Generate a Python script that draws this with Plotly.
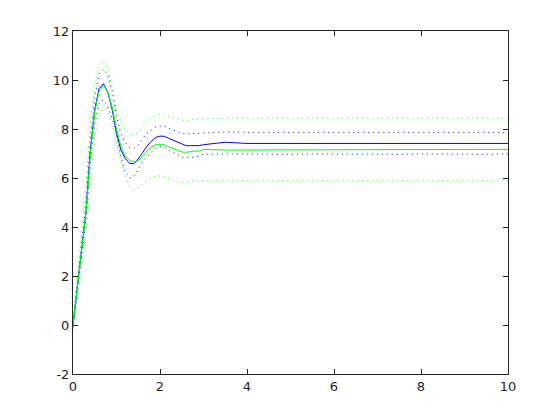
import plotly.graph_objects as go

x = [0, 0.1, 0.2, 0.3, 0.4, 0.5, 0.6, 0.7, 0.8, 0.9,
     1.0, 1.1, 1.2, 1.3, 1.4, 1.5, 1.6, 1.7, 1.8, 1.9,
     2.0, 2.1, 2.2, 2.3, 2.4, 2.5, 2.6, 2.7, 2.8, 2.9,
     3.0, 3.5, 4.0, 4.5, 5.0, 5.5, 6.0, 6.5, 7.0, 7.5, 8.0, 8.5, 9.0, 9.5, 10.0]

blue_mean = [0, 1.6, 3.15, 4.65, 7.15, 8.8, 9.65, 9.85, 9.5, 8.8,
             7.85, 7.15, 6.8, 6.6, 6.58, 6.78, 7.03, 7.3, 7.5, 7.65,
             7.71, 7.7, 7.62, 7.55, 7.46, 7.38, 7.32, 7.32, 7.32, 7.32,
             7.36, 7.46, 7.41, 7.41, 7.39, 7.41, 7.4, 7.41, 7.39, 7.41, 7.39, 7.4, 7.41, 7.4, 7.41]
blue_upper = [0.1, 1.8, 3.4, 5.0, 7.6, 9.3, 10.25, 10.45, 10.18, 9.55,
              8.55, 7.8, 7.45, 7.25, 7.21, 7.35, 7.6, 7.82, 7.97, 8.08,
              8.12, 8.1, 8.03, 7.96, 7.88, 7.82, 7.8, 7.81, 7.82, 7.84,
              7.85, 7.88, 7.86, 7.86, 7.85, 7.86, 7.86, 7.85, 7.86, 7.86, 7.85, 7.86, 7.86, 7.85, 7.86]
blue_lower = [-0.1, 1.4, 2.9, 4.3, 6.6, 8.2, 9.05, 9.2, 8.9, 8.45,
              7.7, 6.9, 6.25, 6.0, 6.05, 6.35, 6.65, 6.85, 7.05, 7.2,
              7.28, 7.25, 7.15, 7.02, 6.92, 6.85, 6.84, 6.84, 6.85, 6.9,
              6.97, 6.98, 6.97, 6.98, 6.97, 6.98, 6.97, 6.98, 6.97, 6.97, 6.98, 6.97, 6.98, 6.97, 6.98]

green_mean = [0, 1.5, 3.1, 4.6, 7.0, 8.7, 9.55, 9.8, 9.5, 8.9,
              8.0, 7.3, 6.9, 6.72, 6.66, 6.7, 6.88, 7.1, 7.25, 7.35,
              7.38, 7.35, 7.28, 7.2, 7.12, 7.06, 7.05, 7.08, 7.1, 7.1,
              7.17, 7.14, 7.14, 7.17, 7.17, 7.17, 7.17, 7.17, 7.17, 7.17, 7.17, 7.17, 7.17, 7.17, 7.17]
green_upper = [0.15, 2.1, 3.9, 5.6, 8.3, 9.9, 10.55, 10.8, 10.45, 9.75,
               8.75, 8.3, 8.0, 7.82, 7.76, 7.85, 8.1, 8.3, 8.45, 8.56,
               8.6, 8.58, 8.52, 8.45, 8.38, 8.34, 8.34, 8.38, 8.41, 8.41,
               8.42, 8.44, 8.44, 8.44, 8.44, 8.44, 8.44, 8.44, 8.44, 8.44, 8.44, 8.44, 8.44, 8.44, 8.44]
green_lower = [-0.15, 1.0, 2.4, 3.8, 5.8, 7.6, 8.6, 8.95, 8.7, 8.2,
               7.45, 6.65, 6.05, 5.65, 5.54, 5.6, 5.78, 5.92, 6.02, 6.07,
               6.08, 6.05, 5.98, 5.9, 5.84, 5.81, 5.81, 5.84, 5.87, 5.89,
               5.89, 5.89, 5.89, 5.89, 5.89, 5.89, 5.89, 5.89, 5.89, 5.89, 5.89, 5.89, 5.89, 5.89, 5.89]

x_ticks = [0, 2, 4, 6, 8, 10]
y_ticks = [-2, 0, 2, 4, 6, 8, 10, 12]

BLUE = "#0000ff"
GREEN = "#00ff00"
DOT = "1px,4px"

fig = go.Figure()
series = [
    (blue_upper, BLUE, DOT),
    (blue_lower, BLUE, DOT),
    (blue_mean, BLUE, "solid"),
    (green_upper, GREEN, DOT),
    (green_lower, GREEN, DOT),
    (green_mean, GREEN, "solid"),
]
for ys, col, dash in series:
    fig.add_trace(go.Scatter(x=x, y=ys, mode="lines",
                             line=dict(color=col, width=1, dash=dash),
                             showlegend=False, hoverinfo="skip"))

axis_common = dict(showgrid=False, zeroline=False, showline=True, mirror="ticks",
                   linecolor="#262626", linewidth=1, ticks="inside", ticklen=5,
                   tickcolor="#262626", tickwidth=1,
                   tickfont=dict(family="DejaVu Sans", size=13, color="#262626"))

fig.update_xaxes(range=[0, 10], tickvals=x_ticks, ticktext=[str(v) for v in x_ticks], **axis_common)
fig.update_yaxes(range=[-2, 12], tickvals=y_ticks, ticktext=[str(v) for v in y_ticks], **axis_common)

# the page body adds an 8px offset, so margins are shifted to keep the plot box at 73..508 x 31..374
fig.update_layout(width=560, height=420, margin=dict(l=65, r=60, t=23, b=54),
                  paper_bgcolor="white", plot_bgcolor="white")

fig.write_html("out.html")
